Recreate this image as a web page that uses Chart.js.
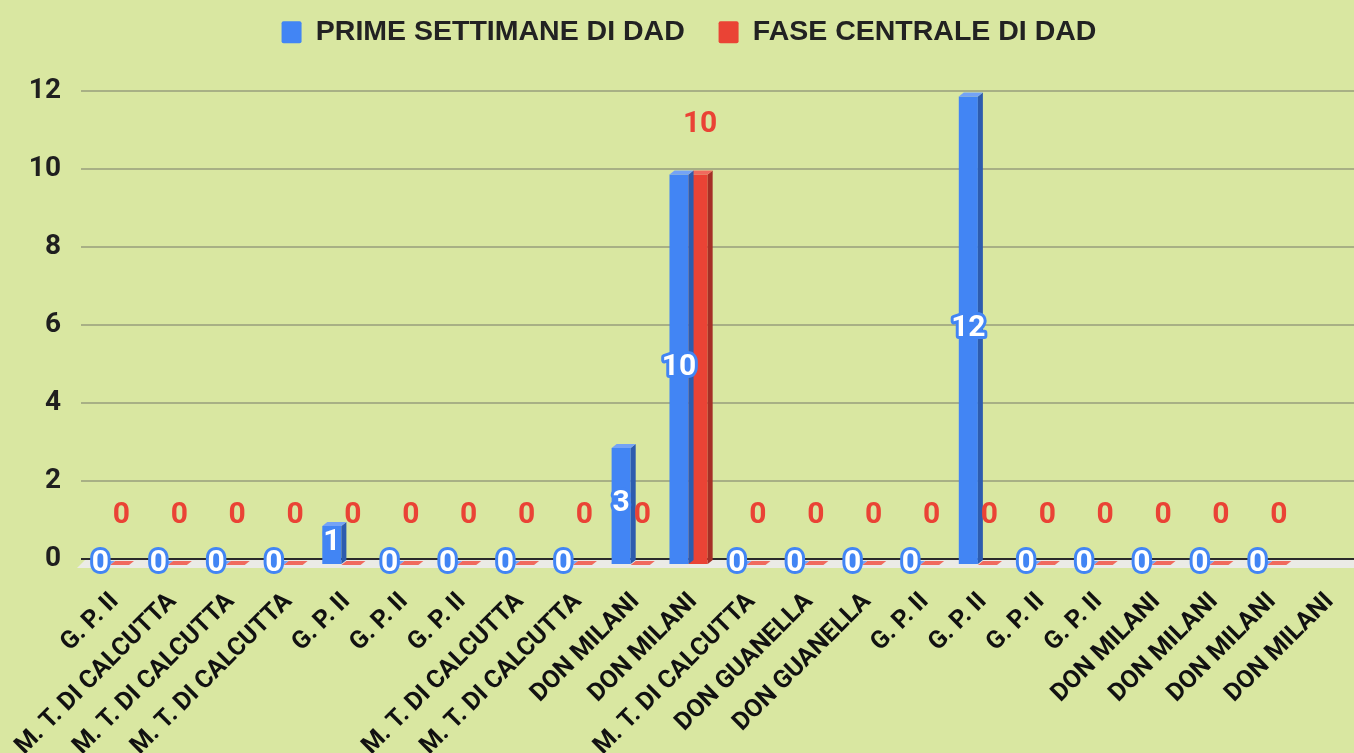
<!DOCTYPE html>
<html><head><meta charset="utf-8">
<script src="https://cdn.jsdelivr.net/npm/chart.js@4.4.1/dist/chart.umd.min.js"></script>
<style>html,body{margin:0;padding:0;background:#d9e7a1;}#wrap{width:1354px;height:753px;position:relative;}</style>
</head><body><div id="wrap"><canvas id="c"></canvas></div>
<script>
const categories = ['G. P. II','M. T. DI CALCUTTA','M. T. DI CALCUTTA','M. T. DI CALCUTTA','G. P. II','G. P. II','G. P. II','M. T. DI CALCUTTA','M. T. DI CALCUTTA','DON MILANI','DON MILANI','M. T. DI CALCUTTA','DON GUANELLA','DON GUANELLA','G. P. II','G. P. II','G. P. II','G. P. II','DON MILANI','DON MILANI','DON MILANI','DON MILANI'];
const primeSettimane = [0,0,0,0,1,0,0,0,0,3,10,0,0,0,0,12,0,0,0,0,0,null];
const faseCentrale   = [0,0,0,0,0,0,0,0,0,0,10,0,0,0,0,0,0,0,0,0,0,null];
const seriesNames = ['PRIME SETTIMANE DI DAD','FASE CENTRALE DI DAD'];
const yTicks = [0,2,4,6,8,10,12];

const FONT = 'Roboto, "Liberation Sans", Arial, sans-serif';
const LEGEND_FONT = '"Liberation Sans", Arial, sans-serif';
Chart.defaults.font.family = FONT;
const DX = 5, DY = -4, SHIFT = 6;
const sideColors = ['#2d5cae', '#a52f26'];
const topColors = ['#74a3f6', '#f06a5e'];
const seriesData = [primeSettimane, faseCentrale];

const fx = {
  id: 'fx',
  beforeInit(chart) {
    const lg = chart.legend;
    if (lg) { const f = lg.fit; lg.fit = function(){ f.call(this); this.height += 34; }; }
  },
  beforeDatasetsDraw(chart) {
    const {ctx, chartArea: a, scales: {y}} = chart;
    const y0 = y.getPixelForValue(0);
    ctx.save();
    ctx.fillStyle = '#ebebe6';
    ctx.beginPath();
    ctx.moveTo(a.left - 4, y0 + SHIFT + 3);
    ctx.lineTo(a.right, y0 + SHIFT + 3);
    ctx.lineTo(a.right, y0 + 1);
    ctx.lineTo(a.left + 4, y0 + 1);
    ctx.closePath(); ctx.fill();
    ctx.restore();
    ctx.save();
    ctx.translate(0, SHIFT);
  },
  afterDatasetDraw(chart, args) {
    const {ctx} = chart;
    const i = args.index;
    const data = seriesData[i];
    args.meta.data.forEach((el, j) => {
      if (data[j] == null) return;
      const p = el.getProps(['x','y','base','width'], true);
      const x1 = p.x - p.width/2, x2 = p.x + p.width/2;
      const top = Math.min(p.y, p.base), bot = Math.max(p.y, p.base);
      ctx.fillStyle = sideColors[i];
      ctx.beginPath(); ctx.moveTo(x2, top); ctx.lineTo(x2+DX, top+DY); ctx.lineTo(x2+DX, bot+DY); ctx.lineTo(x2, bot); ctx.closePath(); ctx.fill();
      ctx.fillStyle = topColors[i];
      ctx.beginPath(); ctx.moveTo(x1, top); ctx.lineTo(x2, top); ctx.lineTo(x2+DX, top+DY); ctx.lineTo(x1+DX, top+DY); ctx.closePath(); ctx.fill();
    });
  },
  afterDatasetsDraw(chart) {
    const {ctx} = chart;
    ctx.restore();
    ctx.save();
    ctx.font = 'bold 30px ' + FONT;
    ctx.textAlign = 'center'; ctx.textBaseline = 'middle';
    chart.getDatasetMeta(0).data.forEach((el, j) => {
      const v = primeSettimane[j]; if (v == null) return;
      const p = el.getProps(['x','y','base'], true);
      const cy = (p.y + p.base)/2 + SHIFT - 2;
      ctx.lineWidth = 6; ctx.lineJoin = 'round'; ctx.strokeStyle = '#4285f4';
      ctx.strokeText(String(v), p.x, cy);
      ctx.fillStyle = '#ffffff'; ctx.fillText(String(v), p.x, cy);
    });
    chart.getDatasetMeta(1).data.forEach((el, j) => {
      const v = faseCentrale[j]; if (v == null) return;
      const p = el.getProps(['x','y'], true);
      ctx.fillStyle = '#ea4335'; ctx.fillText(String(v), p.x + 2, p.y - 44);
    });
    ctx.restore();
  }
};

new Chart(document.getElementById('c'), {
  type: 'bar',
  data: {
    labels: categories,
    datasets: [
      { label: seriesNames[0], data: primeSettimane, backgroundColor: '#4285f4', categoryPercentage: 0.66, barPercentage: 1.0, clip: false },
      { label: seriesNames[1], data: faseCentrale, backgroundColor: '#ea4335', categoryPercentage: 0.66, barPercentage: 1.0, clip: false }
    ]
  },
  options: {
    responsive: true, maintainAspectRatio: false, animation: false,
    layout: { padding: { left: 24, top: 0, right: 0, bottom: 0 } },
    plugins: {
      tooltip: { enabled: false },
      legend: {
        position: 'top',
        labels: {
          color: '#222', font: { family: LEGEND_FONT, size: 28.5, weight: 'bold' }, boxWidth: 20, boxHeight: 22, padding: 18,
          useBorderRadius: true, borderRadius: 2,
          generateLabels(chart) {
            const items = Chart.defaults.plugins.legend.labels.generateLabels(chart);
            items[0].text += '  ';
            return items;
          }
        }
      }
    },
    scales: {
      y: {
        min: yTicks[0], max: yTicks[yTicks.length-1],
        ticks: { stepSize: yTicks[1]-yTicks[0], color: '#1f1f1f', font: { size: 28, weight: 'bold' }, padding: 20 },
        grid: { color: c => c.tick && c.tick.value === 0 ? '#2b2b2b' : '#a8b085', lineWidth: 2, drawTicks: false },
        border: { display: false },
        afterFit(s) { s.width = 57; s.paddingTop = 0; s.paddingBottom = 0; }
      },
      x: {
        grid: { display: false, drawTicks: false }, border: { display: false },
        ticks: { autoSkip: false, maxRotation: 45, minRotation: 45, labelOffset: 5, color: '#111', font: { size: 25, weight: 'bold' }, padding: 28 },
        afterFit(s) { s.height = 194; s.paddingLeft = 0; s.paddingRight = 0; }
      }
    }
  },
  plugins: [fx]
});
</script>
</body></html>
